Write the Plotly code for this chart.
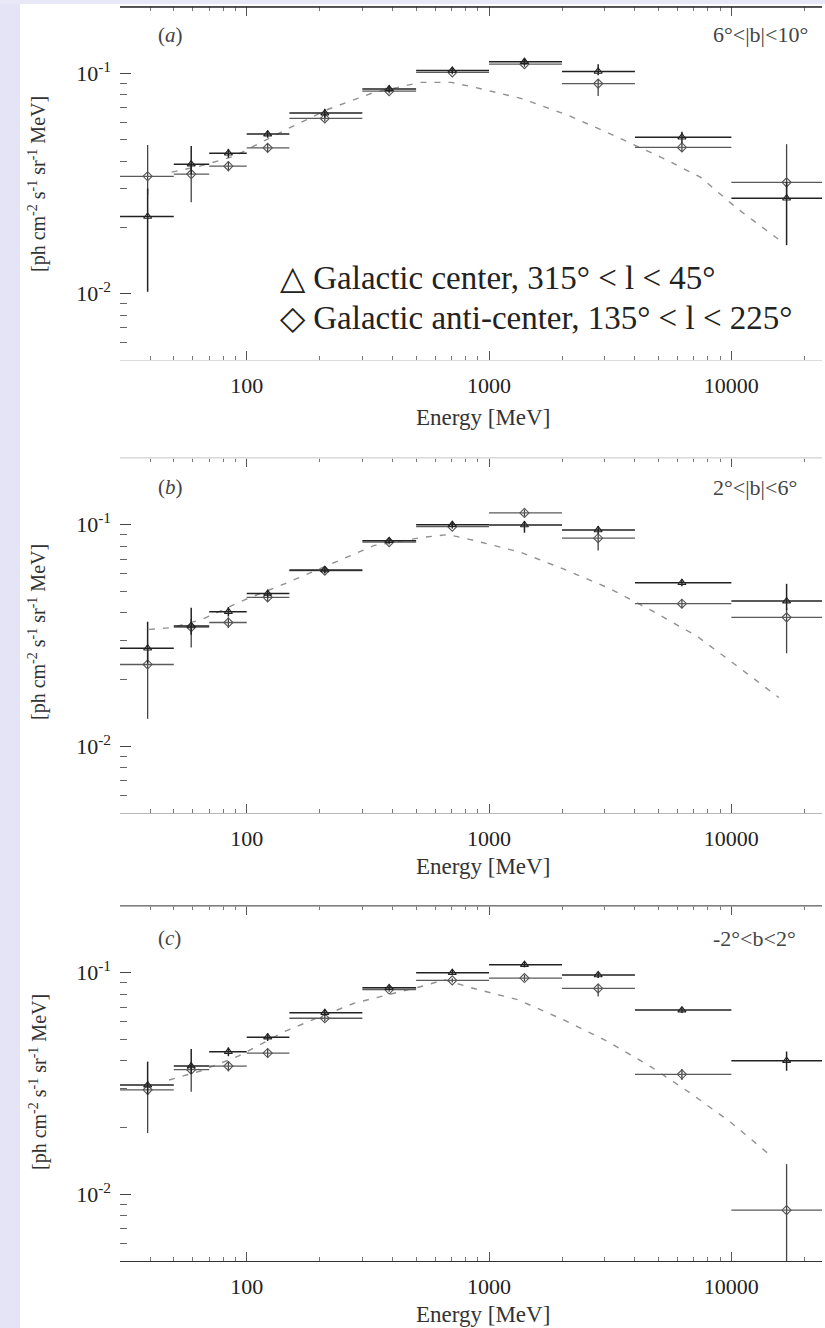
import plotly.graph_objects as go

# ---------------- data ----------------
energy = [39, 59, 84, 122, 210, 387, 705, 1400, 2820, 6250, 16900]
bin_lo = [30, 50, 70, 100, 150, 300, 500, 1000, 2000, 4000, 10000]
bin_hi = [50, 70, 100, 150, 300, 500, 1000, 2000, 4000, 10000, 30000]

# panel (a) 6°<|b|<10°
a_gc = [0.0224, 0.0387, 0.0434, 0.053, 0.066, 0.085, 0.103, 0.113, 0.102, 0.0513, 0.0271]
a_gc_up = [0.0076, 0.0081, 0.002, 0.002, 0.003, 0.003, 0.003, 0.004, 0.008, 0.003, 0.005]
a_gc_dn = [0.0122, 0.004, 0.002, 0.002, 0.003, 0.003, 0.003, 0.004, 0.004, 0.003, 0.0105]
a_ac = [0.0341, 0.0349, 0.0379, 0.0459, 0.0624, 0.083, 0.101, 0.110, 0.0898, 0.0461, 0.0320]
a_ac_up = [0.0132, 0.004, 0.002, 0.002, 0.002, 0.002, 0.002, 0.003, 0.004, 0.002, 0.0157]
a_ac_dn = [0.006, 0.0089, 0.002, 0.002, 0.002, 0.002, 0.002, 0.003, 0.0108, 0.002, 0.005]
a_model_e = [49, 64, 89, 149, 217, 336, 525, 698, 867, 1354, 2114, 3177, 5104, 7450, 10590, 15600]
a_model_f = [0.0356, 0.0379, 0.0421, 0.0563, 0.0687, 0.082, 0.091, 0.091, 0.0865, 0.077, 0.0646,
             0.053, 0.0417, 0.0338, 0.0243, 0.0177]

# panel (b) 2°<|b|<6°
b_gc = [0.0277, 0.0349, 0.0405, 0.0489, 0.0625, 0.0846, 0.100, 0.0997, 0.0947, 0.0547, 0.0452]
b_gc_up = [0.0088, 0.0073, 0.002, 0.002, 0.002, 0.002, 0.003, 0.004, 0.004, 0.002, 0.0089]
b_gc_dn = [0.004, 0.003, 0.002, 0.002, 0.002, 0.002, 0.003, 0.0077, 0.004, 0.002, 0.004]
b_ac = [0.0234, 0.0345, 0.0362, 0.047, 0.062, 0.0835, 0.098, 0.113, 0.0869, 0.044, 0.0382]
b_ac_up = [0.004, 0.003, 0.002, 0.002, 0.002, 0.002, 0.002, 0.004, 0.004, 0.002, 0.004]
b_ac_dn = [0.0101, 0.0066, 0.002, 0.002, 0.002, 0.002, 0.002, 0.004, 0.0104, 0.002, 0.0119]
b_model_e = [39.5, 49, 65, 98, 149, 230, 336, 525, 678, 867, 1354, 2037, 3177, 4777, 7244, 10190, 15700]
b_model_f = [0.0337, 0.0343, 0.0373, 0.0458, 0.0551, 0.0676, 0.0806, 0.0875, 0.0902, 0.0849, 0.075,
             0.063, 0.0513, 0.0405, 0.0313, 0.0237, 0.0166]

# panel (c) -2°<b<2°
c_gc = [0.0311, 0.0379, 0.044, 0.0512, 0.066, 0.0855, 0.100, 0.1087, 0.0977, 0.0678, 0.0401]
c_gc_up = [0.0086, 0.0074, 0.002, 0.002, 0.002, 0.002, 0.002, 0.003, 0.003, 0.002, 0.004]
c_gc_dn = [0.003, 0.003, 0.002, 0.002, 0.002, 0.002, 0.002, 0.003, 0.003, 0.002, 0.004]
c_ac = [0.0296, 0.0365, 0.0379, 0.0434, 0.0623, 0.084, 0.0923, 0.0946, 0.0849, 0.0348, 0.00848]
c_ac_up = [0.003, 0.003, 0.002, 0.002, 0.002, 0.002, 0.002, 0.003, 0.003, 0.002, 0.0052]
c_ac_dn = [0.0107, 0.0075, 0.002, 0.002, 0.002, 0.002, 0.002, 0.003, 0.0068, 0.002, 0.0040]
c_model_e = [47.8, 65, 92.7, 143, 180, 278, 540, 653, 844, 1315, 2037, 3090, 4645, 6776, 9900, 14460]
c_model_f = [0.0328, 0.0361, 0.0421, 0.0542, 0.0602, 0.0729, 0.0873, 0.093, 0.0855, 0.0755, 0.0612,
             0.0489, 0.0377, 0.0286, 0.0212, 0.015]

panel_labels = ["(<i>a</i>)", "(<i>b</i>)", "(<i>c</i>)"]
region_labels = ["6°<|b|<10°", "2°<|b|<6°", "-2°<b<2°"]
legend_labels = ["△ Galactic center, 315° < l < 45°", "◇ Galactic anti-center, 135° < l < 225°"]
x_tick_vals = [100, 1000, 10000]
x_tick_text = ["100", "1000", "10000"]
y_tick_vals = [0.01, 0.1]
y_tick_text = ["10<sup>-2</sup>", "10<sup>-1</sup>"]

# ---------------- figure ----------------
W, H = 825, 1328
FONT = "Liberation Serif, Times New Roman, serif"

ex_plus = [h - c for h, c in zip(bin_hi, energy)]
ex_minus = [c - l for l, c in zip(bin_lo, energy)]

panels = [
    (a_gc, a_gc_up, a_gc_dn, a_ac, a_ac_up, a_ac_dn, a_model_e, a_model_f),
    (b_gc, b_gc_up, b_gc_dn, b_ac, b_ac_up, b_ac_dn, b_model_e, b_model_f),
    (c_gc, c_gc_up, c_gc_dn, c_ac, c_ac_up, c_ac_dn, c_model_e, c_model_f),
]
# pixel extents of the plot areas (top, bottom)
pix = [(7, 360), (458, 813), (906, 1261)]
x_left, x_right = 120, 822
bottom_line_col = ["#dcdcdc", "#b8b8b8", "#333333"]
top_line_col = ["#222222", "#e4e4e4", "#999999"]

fig = go.Figure()
for i, (gc, gcu, gcd, ac, acu, acd, me, mf) in enumerate(panels):
    xa = "x" if i == 0 else f"x{i+1}"
    ya = "y" if i == 0 else f"y{i+1}"
    fig.add_trace(go.Scatter(x=me, y=mf, mode="lines", xaxis=xa, yaxis=ya,
                             line=dict(color="#909090", width=1.4, dash="6px,8px"),
                             showlegend=False, hoverinfo="skip"))
    fig.add_trace(go.Scatter(x=energy, y=ac, mode="markers", xaxis=xa, yaxis=ya,
                             marker=dict(symbol="diamond-open", size=7, color="#555",
                                         line=dict(width=1.1)),
                             error_x=dict(type="data", array=ex_plus, arrayminus=ex_minus,
                                          color="#5a5a5a", thickness=1.3, width=0),
                             error_y=dict(type="data", array=acu, arrayminus=acd,
                                          color="#444", thickness=1.3, width=0),
                             showlegend=False, name="anti-center"))
    fig.add_trace(go.Scatter(x=energy, y=gc, mode="markers", xaxis=xa, yaxis=ya,
                             marker=dict(symbol="triangle-up-open", size=7, color="#222",
                                         line=dict(width=1.1)),
                             error_x=dict(type="data", array=ex_plus, arrayminus=ex_minus,
                                          color="#222", thickness=1.5, width=0),
                             error_y=dict(type="data", array=gcu, arrayminus=gcd,
                                          color="#222", thickness=1.5, width=0),
                             showlegend=False, name="center"))

    top, bot = pix[i]
    dom_y = [1 - bot / H, 1 - top / H]
    xkey = "xaxis" if i == 0 else f"xaxis{i+1}"
    ykey = "yaxis" if i == 0 else f"yaxis{i+1}"
    minor_x = [v * m for v in (10, 100, 1000, 10000) for m in range(2, 10)]
    minor_y = [v * m for v in (0.001, 0.01, 0.1) for m in range(2, 10)]
    fig.layout[xkey] = dict(
        type="log", domain=[x_left / W, x_right / W], anchor=ya,
        range=[1.477, 4.374], tickmode="array", tickvals=x_tick_vals, ticktext=x_tick_text,
        ticks="inside", ticklen=9, tickwidth=1, tickcolor="#555",
        showline=True, linecolor=bottom_line_col[i], linewidth=1, mirror="ticks",
        showgrid=False, zeroline=False, ticklabelstandoff=6,
        tickfont=dict(family=FONT, size=22, color="#222"),
        minor=dict(tickmode="array", tickvals=minor_x, ticks="inside", ticklen=4,
                   tickcolor="#777", showgrid=False),
    )
    fig.layout[ykey] = dict(
        type="log", domain=dom_y, anchor=xa, range=[-2.301, -0.699],
        tickmode="array", tickvals=y_tick_vals, ticktext=y_tick_text,
        ticks="inside", ticklen=11, tickwidth=1.2, tickcolor="#444",
        showline=False, showgrid=False, zeroline=False, ticklabelstandoff=8,
        tickfont=dict(family=FONT, size=22, color="#222"),
        minor=dict(tickmode="array", tickvals=minor_y, ticks="inside", ticklen=7,
                   tickcolor="#666", showgrid=False),
    )

annotations = []
shapes = [
    dict(type="rect", xref="paper", yref="paper", x0=0, x1=20 / W, y0=0, y1=1,
         fillcolor="#e4e4f6", line=dict(width=0), layer="below"),
    dict(type="rect", xref="paper", yref="paper", x0=0, x1=1, y0=1 - 4 / H, y1=1,
         fillcolor="#e8e8f6", line=dict(width=0), layer="below"),
]
title_y = [184, 632, 1082]
xtitle_y = [418, 866, 1314]
plab_y = [35, 487, 938]
for i in range(3):
    top, bot = pix[i]
    shapes.append(dict(type="line", xref="paper", yref="paper", x0=x_left / W, x1=x_right / W,
                       y0=1 - top / H, y1=1 - top / H,
                       line=dict(color=top_line_col[i], width=1.5)))
    annotations.append(dict(text="[ph cm<sup>-2</sup> s<sup>-1</sup> sr<sup>-1</sup> MeV]",
                            x=38 / W, y=1 - title_y[i] / H, xref="paper", yref="paper",
                            textangle=-90, showarrow=False, xanchor="center", yanchor="middle",
                            font=dict(family=FONT, size=20, color="#333")))
    annotations.append(dict(text="Energy [MeV]", x=483 / W, y=1 - xtitle_y[i] / H,
                            xref="paper", yref="paper", showarrow=False,
                            xanchor="center", yanchor="middle",
                            font=dict(family=FONT, size=23, color="#333")))
    annotations.append(dict(text=panel_labels[i], x=156 / W, y=1 - plab_y[i] / H,
                            xref="paper", yref="paper", showarrow=False,
                            xanchor="left", yanchor="middle",
                            font=dict(family=FONT, size=21, color="#444")))
    annotations.append(dict(text=region_labels[i], x=711 / W, y=1 - plab_y[i] / H,
                            xref="paper", yref="paper", showarrow=False,
                            xanchor="left", yanchor="middle",
                            font=dict(family=FONT, size=22, color="#444")))

for j, (lab, yy) in enumerate(zip(legend_labels, [278, 318])):
    annotations.append(dict(text=lab, x=278 / W, y=1 - yy / H, xref="paper", yref="paper",
                            showarrow=False, xanchor="left", yanchor="middle",
                            font=dict(family=FONT, size=33, color="#222")))

fig.update_layout(width=W, height=H, margin=dict(l=0, r=0, t=0, b=0),
                  paper_bgcolor="white", plot_bgcolor="white",
                  shapes=shapes, annotations=annotations, showlegend=False)

fig.write_html("out.html", config={"displayModeBar": False},
               post_script="document.body.style.margin='0';document.body.style.overflow='hidden';")
